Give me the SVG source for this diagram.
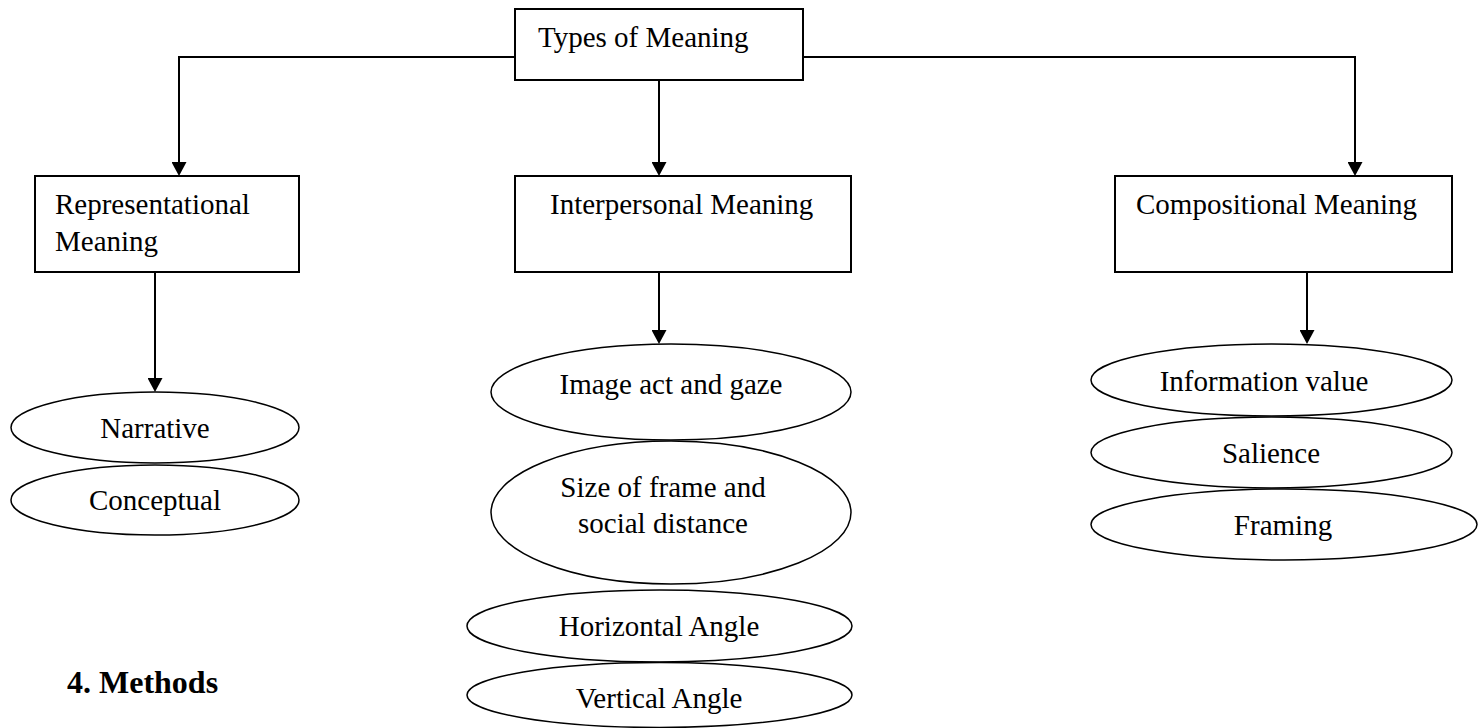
<svg xmlns="http://www.w3.org/2000/svg" width="1483" height="728" viewBox="0 0 1483 728">
  <style>
    text { font-family: "Liberation Serif", "Times New Roman", serif; font-size: 29px; fill: #000; }
    .box { fill: #fff; stroke: #000; stroke-width: 2; }
    .oval { fill: #fff; stroke: #000; stroke-width: 1.5; }
    .mid { text-anchor: middle; }
    .link { fill: none; stroke: #000; stroke-width: 2; marker-end: url(#arrow); }
    .heading { font-weight: bold; font-size: 32px; }
  </style>
  <defs>
    <marker id="arrow" viewBox="0 0 14 15" refX="12" refY="7.5" markerWidth="14" markerHeight="15" markerUnits="userSpaceOnUse" orient="auto">
      <path d="M0,0 L14,7.5 L0,15 Z" fill="#000"/>
    </marker>
  </defs>
  <rect width="1483" height="728" fill="#fff"/>

  <!-- connectors -->
  <g id="connectors">
    <path class="link" d="M515 57 H179 V174"/>
    <path class="link" d="M803 57 H1355 V174"/>
    <path class="link" d="M659 80 V174"/>
    <path class="link" d="M155 272 V390"/>
    <path class="link" d="M659 272 V342"/>
    <path class="link" d="M1307 272 V342"/>
  </g>

  <!-- root -->
  <g id="types-of-meaning">
    <rect class="box" x="515" y="9" width="288" height="71"/>
    <text x="538" y="47">Types of Meaning</text>
  </g>

  <!-- second level -->
  <g id="representational">
    <rect class="box" x="35" y="176" width="264" height="96"/>
    <text x="55" y="214">Representational</text>
    <text x="55" y="251">Meaning</text>
  </g>
  <g id="interpersonal">
    <rect class="box" x="515" y="176" width="336" height="96"/>
    <text x="550" y="214">Interpersonal Meaning</text>
  </g>
  <g id="compositional">
    <rect class="box" x="1115" y="176" width="337" height="96"/>
    <text x="1136" y="214">Compositional Meaning</text>
  </g>

  <!-- representational sub-types -->
  <g id="narrative">
    <ellipse class="oval" cx="155" cy="427.5" rx="144" ry="35.5"/>
    <text class="mid" x="155" y="438">Narrative</text>
  </g>
  <g id="conceptual">
    <ellipse class="oval" cx="155" cy="500" rx="144" ry="35"/>
    <text class="mid" x="155" y="510">Conceptual</text>
  </g>

  <!-- interpersonal sub-types -->
  <g id="image-act">
    <ellipse class="oval" cx="671" cy="392" rx="180" ry="48"/>
    <text class="mid" x="671" y="394">Image act and gaze</text>
  </g>
  <g id="size-of-frame">
    <ellipse class="oval" cx="671" cy="512.5" rx="180" ry="71.5"/>
    <text class="mid" x="663" y="497">Size of frame and</text>
    <text class="mid" x="663" y="533">social distance</text>
  </g>
  <g id="horizontal-angle">
    <ellipse class="oval" cx="659.5" cy="626" rx="192.5" ry="36"/>
    <text class="mid" x="659" y="636">Horizontal Angle</text>
  </g>
  <g id="vertical-angle">
    <ellipse class="oval" cx="659.5" cy="695" rx="192.5" ry="32.5"/>
    <text class="mid" x="659" y="708">Vertical Angle</text>
  </g>

  <!-- compositional sub-types -->
  <g id="information-value">
    <ellipse class="oval" cx="1271.5" cy="380" rx="180.5" ry="36"/>
    <text class="mid" x="1264" y="391">Information value</text>
  </g>
  <g id="salience">
    <ellipse class="oval" cx="1271.5" cy="452.5" rx="180.5" ry="35.5"/>
    <text class="mid" x="1271" y="463">Salience</text>
  </g>
  <g id="framing">
    <ellipse class="oval" cx="1284" cy="524.5" rx="193" ry="35.5"/>
    <text class="mid" x="1283" y="535">Framing</text>
  </g>

  <!-- section heading -->
  <text class="heading" x="67" y="693">4. Methods</text>
</svg>
